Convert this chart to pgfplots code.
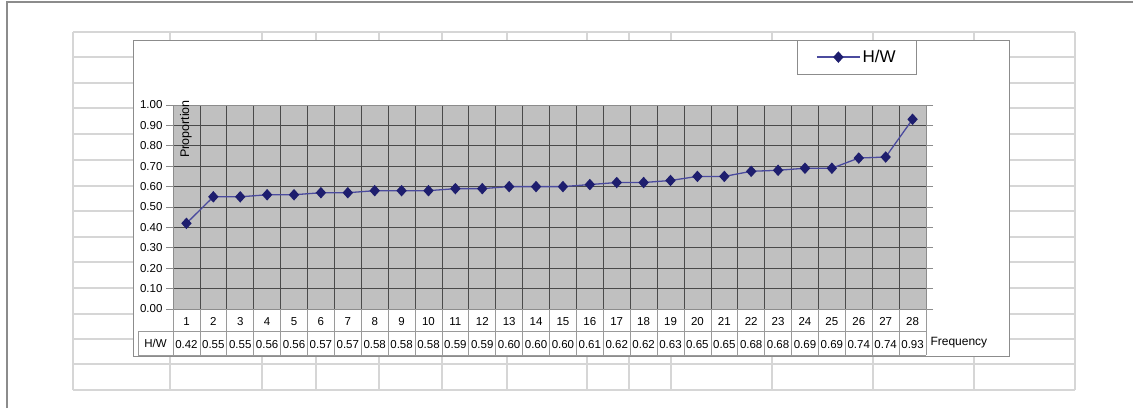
\documentclass[border=0pt]{standalone}
\usepackage{pgfplots}
\pgfplotsset{compat=1.18}
\usepackage{fontspec}
\setmainfont{Liberation Sans}

\definecolor{sheetgrid}{HTML}{D6D6D6}
\definecolor{framegray}{HTML}{8C8C8C}
\definecolor{plotfill}{HTML}{C0C0C0}
\definecolor{gridline}{HTML}{4A4A4A}
\definecolor{tablegray}{HTML}{9A9A9A}
\definecolor{hwline}{HTML}{4B4B9E}
\definecolor{hwmark}{HTML}{1E1E6E}

\newcommand{\lbl}{\fontsize{11.5}{13}\selectfont}

\begin{document}
\begin{tikzpicture}
% page and sheet decoration, in pixel units (y down)
\begin{scope}[x=1pt,y=-1pt]
\useasboundingbox[fill=white] (0,0) rectangle (1133,408);
\draw[framegray, line width=1.2pt] (7,408) -- (7,2) -- (1133,2);
\foreach \yy in {32,57,83,108,134,160,186,211,237,262,288,314,339,364,390}
  \draw[sheetgrid, line width=1.2pt] (73,\yy) -- (1075,\yy);
\foreach \xx in {73,170,262,316,379,442,507,587,629,671,772,873,974,1075}
  \draw[sheetgrid, line width=1.2pt] (\xx,32) -- (\xx,390);
\draw[framegray, fill=white, line width=1pt] (133,40) rectangle (1009,356);
\end{scope}

\begin{axis}[
    at={(173pt,-309pt)}, anchor=south west,
    width=753pt, height=204pt, scale only axis,
    xmin=0.5, xmax=28.5, ymin=0, ymax=1,
    axis background/.style={fill=plotfill},
    axis line style={draw=framegray, line width=0.8pt},
    xtick={1,...,28},
    xtick style={draw=none},
    xticklabel style={anchor=center, text height=8pt, text depth=0pt,
        yshift=-5pt, font=\lbl},
    minor xtick={1.5,2.5,...,27.5},
    minor tick length=0pt,
    xminorgrids,
    minor x grid style={gridline, line width=0.7pt},
    extra x ticks={1,...,28},
    extra x tick labels={0.42,0.55,0.55,0.56,0.56,0.57,0.57,0.58,0.58,0.58,0.59,0.59,0.60,0.60,0.60,0.61,0.62,0.62,0.63,0.65,0.65,0.68,0.68,0.69,0.69,0.74,0.74,0.93},
    extra x tick style={major tick length=0pt, grid=none,
        xticklabel style={yshift=-30pt}},
    ytick={0,0.1,...,1.0},
    ymajorgrids,
    y grid style={gridline, line width=0.7pt},
    ytick style={draw=framegray, line width=0.8pt},
    tick align=outside,
    major tick length=7pt,
    yticklabel style={font=\lbl, /pgf/number format/.cd, fixed, fixed zerofill, precision=2},
    /pgf/number format/assume math mode=true,
    legend style={at={(rel axis cs:0.8287,1.3186)}, anchor=north west,
        draw=framegray, font=\fontsize{17}{19}\selectfont,
        inner xsep=19pt, inner ysep=8pt},
    legend image code/.code={\draw[mark repeat=2,mark phase=2,#1]
        plot coordinates {(0pt,0pt) (21.5pt,0pt) (43pt,0pt)};},
    clip=false,
]
\addplot[color=hwline, line width=1.3pt, mark=diamond*, mark size=4.8pt,
    mark options={draw=hwmark, fill=hwmark, xscale=1.2}] coordinates {
(1,0.42) (2,0.55) (3,0.55) (4,0.56) (5,0.56) (6,0.57) (7,0.57)
(8,0.58) (9,0.58) (10,0.58) (11,0.59) (12,0.59) (13,0.60) (14,0.60)
(15,0.60) (16,0.61) (17,0.62) (18,0.62) (19,0.63) (20,0.65) (21,0.65)
(22,0.675) (23,0.68) (24,0.69) (25,0.69) (26,0.74) (27,0.745) (28,0.93)
};
\addlegendentry{H/W}

% data table lines
\pgfplotsinvokeforeach{0.5,1.5,...,28.5}{
  \draw[tablegray, line width=0.7pt] (axis cs:#1,0) -- ++(0pt,-46pt);
}
\draw[tablegray, line width=0.7pt] ([xshift=-35pt,yshift=-22pt]axis cs:0.5,0) -- ([yshift=-22pt]axis cs:28.5,0);
\draw[tablegray, line width=0.7pt] ([xshift=-35pt,yshift=-46pt]axis cs:0.5,0) -- ([yshift=-46pt]axis cs:28.5,0);
\draw[tablegray, line width=0.7pt] ([xshift=-35pt,yshift=-22pt]axis cs:0.5,0) -- ++(0pt,-24pt);
\node[font=\lbl] at ([xshift=-17.5pt,yshift=-34pt]axis cs:0.5,0) {H/W};
\node[font=\fontsize{12}{14}\selectfont, anchor=west] at ([xshift=1pt,yshift=-34pt]axis cs:28.5,0) {Frequency};
\node[font=\fontsize{12.5}{14}\selectfont, rotate=90] at ([xshift=13pt,yshift=-24pt]rel axis cs:0,1) {Proportion};
\end{axis}
\end{tikzpicture}
\end{document}
